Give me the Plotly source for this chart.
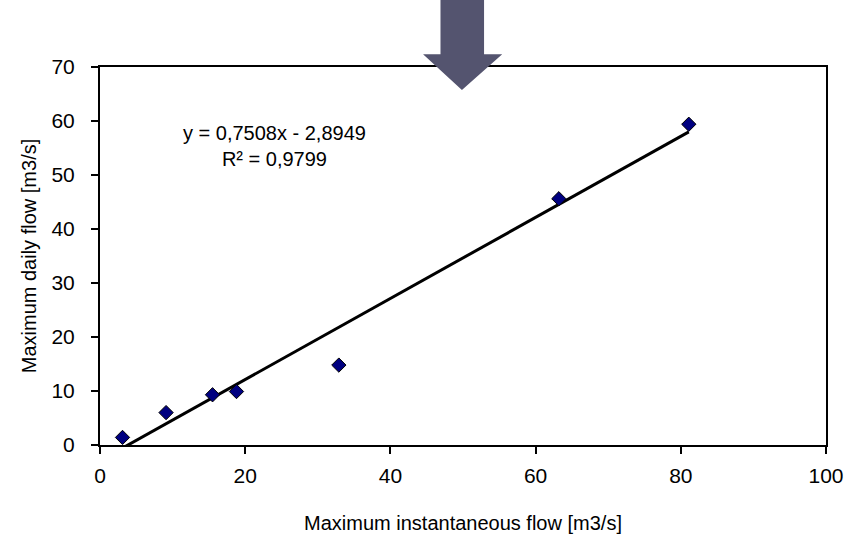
import plotly.graph_objects as go

# Data
inst_flow = [3.1, 9.1, 15.5, 18.8, 32.9, 63.2, 81.1]      # Maximum instantaneous flow [m3/s]
daily_flow = [1.4, 6.0, 9.3, 9.9, 14.8, 45.6, 59.4]      # Maximum daily flow [m3/s]
slope = 0.7508
intercept = -2.8949
eq_text = ["y = 0,7508x - 2,8949", "R² = 0,9799"]
x_ticks = [0, 20, 40, 60, 80, 100]
y_ticks = [0, 10, 20, 30, 40, 50, 60, 70]

FONT = "Liberation Sans, Arial, sans-serif"

trend_x = [min(inst_flow), max(inst_flow)]
trend_y = [slope * v + intercept for v in trend_x]

fig = go.Figure()
fig.add_trace(go.Scatter(
    x=trend_x, y=trend_y, mode="lines",
    line=dict(color="black", width=3), showlegend=False, hoverinfo="skip"))
fig.add_trace(go.Scatter(
    x=inst_flow, y=daily_flow, mode="markers",
    marker=dict(symbol="diamond", size=11, color="#000080",
                line=dict(color="black", width=1)),
    showlegend=False, cliponaxis=False))

fig.add_annotation(
    x=0.24, y=0.79, xref="paper", yref="paper",
    xanchor="center", yanchor="middle",
    text="<br>".join(eq_text), showarrow=False, align="center",
    font=dict(family=FONT, size=20, color="black"))

# Block arrow decoration at top
arrow_col = "#54546f"
fig.add_shape(
    type="path", xref="paper", yref="paper", layer="above",
    path="M 0.469 1.18 L 0.529 1.18 L 0.529 1.034 L 0.554 1.034 "
         "L 0.4985 0.939 L 0.445 1.034 L 0.469 1.034 Z",
    fillcolor=arrow_col, line=dict(width=0))

axis_common = dict(
    showline=True, linecolor="black", linewidth=2, mirror=True,
    ticks="outside", ticklen=7, tickwidth=1.5, tickcolor="black",
    showgrid=False, zeroline=False, automargin=False,
    tickfont=dict(family=FONT, size=21, color="black"),
)

fig.update_xaxes(range=[0, 100], tickvals=x_ticks,
                 title=dict(text="Maximum instantaneous flow [m3/s]",
                            font=dict(family=FONT, size=20, color="black"),
                            standoff=30),
                 ticklabelstandoff=4,
                 **axis_common)
fig.update_yaxes(range=[0, 70], tickvals=y_ticks,
                 title=dict(text="Maximum daily flow [m3/s]",
                            font=dict(family=FONT, size=20, color="black"),
                            standoff=9),
                 ticklabelstandoff=12,
                 **axis_common)

fig.update_layout(
    width=861, height=541,
    margin=dict(l=100, r=35, t=67, b=96),
    paper_bgcolor="white", plot_bgcolor="white",
    showlegend=False,
)

fig.write_html("out.html")
